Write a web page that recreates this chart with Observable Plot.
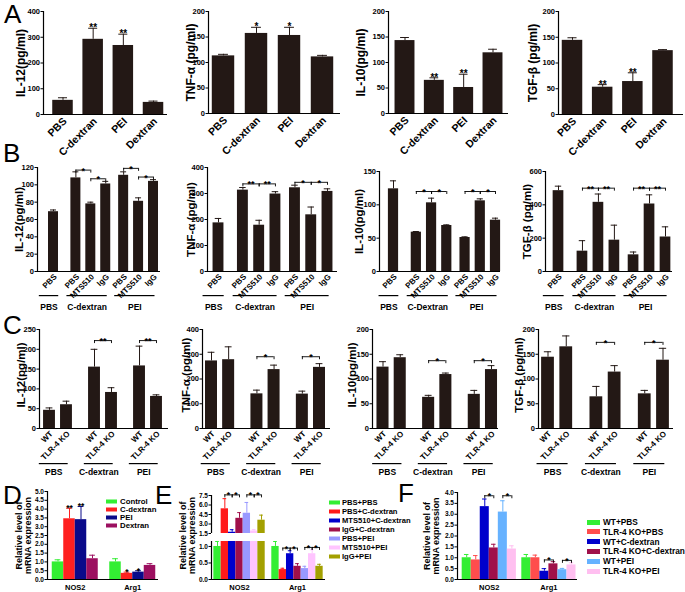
<!DOCTYPE html>
<html>
<head>
<meta charset="utf-8">
<script src="https://cdn.jsdelivr.net/npm/d3@7"></script>
<script src="https://cdn.jsdelivr.net/npm/@observablehq/plot@0.6"></script>
<style>
html,body{margin:0;padding:0;background:#fff;}
#fig{position:relative;width:685px;height:592px;overflow:hidden;font-family:'Liberation Sans',Arial,Helvetica,sans-serif;color:#000;}
#fig svg{position:absolute;left:0;top:0;}
.letter{position:absolute;font-size:26px;line-height:26px;font-weight:normal;}
.legend{position:absolute;font-weight:bold;}
.legend .row{position:absolute;left:0;display:flex;align-items:center;white-space:nowrap;transform:translateY(-50%);}
.legend .sw{display:inline-block;}
</style>
</head>
<body>
<div id="fig"></div>
<script>
// ---------------- DATA ----------------
// Panel A
const aCats = ["PBS", "C-dextran", "PEI", "Dextran"];
const aIL12 = [55, 292, 268, 47], aIL12Err = [10, 43, 44, 5], aIL12Sig = ["", "**", "**", ""];
const aTNF = [113, 157, 153, 111], aTNFErr = [3, 12, 16, 3], aTNFSig = ["", "*", "*", ""];
const aIL10 = [143, 65, 51, 119], aIL10Err = [6, 5, 26, 7], aIL10Sig = ["", "**", "**", ""];
const aTGF = [144, 53, 64, 124], aTGFErr = [5, 5, 17, 2], aTGFSig = ["", "**", "**", ""];
const aTicks400 = [0, 100, 200, 300, 400], aTicks200 = [0, 50, 100, 150, 200];

// Panel B
const bTicks = ["PBS", "PBS", "MTS510", "IgG", "PBS", "MTS510", "IgG"];
const bGroupOf = [0, 1, 1, 1, 2, 2, 2];
const bGroups = ["PBS", "C-dextran", "PEI"];
const bGroupsIL10 = ["PBS", "C-Dextran", "PEI"];
const bIL12 = [69, 108, 78, 101, 111, 81, 104], bIL12Err = [2, 7, 2, 3, 4, 4, 2];
const bTNF = [187, 313, 178, 298, 322, 218, 308], bTNFErr = [17, 10, 19, 9, 10, 30, 10];
const bIL10 = [124, 59, 103, 69, 51, 106, 77], bIL10Err = [12, 1, 7, 1, 1, 3, 3];
const bTGF = [485, 122, 415, 188, 100, 405, 207], bTGFErr = [27, 63, 50, 90, 17, 55, 61];
// significance brackets: [from bar, to bar, label, height]
const bIL12Sig = [[1, 2, "*", 117], [2, 3, "*", 107], [4, 5, "*", 119], [5, 6, "*", 109]];
const bTNFSig = [[1, 2, "**", 337], [2, 3, "**", 337], [4, 5, "*", 343], [5, 6, "*", 343]];
const bIL10Sig = [[1, 2, "*", 120], [2, 3, "*", 120], [4, 5, "*", 120], [5, 6, "*", 120]];
const bTGFSig = [[1, 2, "**", 500], [2, 3, "**", 500], [4, 5, "**", 500], [5, 6, "**", 500]];
const bTicksIL12 = [0, 20, 40, 60, 80, 100, 120], bTicksTNF = [0, 100, 200, 300, 400];
const bTicksIL10 = [0, 50, 100, 150], bTicksTGF = [0, 200, 400, 600];

// Panel C
const cTicks = ["WT", "TLR-4 KO", "WT", "TLR-4 KO", "WT", "TLR-4 KO"];
const cGroupOf = [0, 0, 1, 1, 2, 2];
const cGroups = ["PBS", "C-dextran", "PEI"];
const cIL12 = [46, 60, 155, 91, 158, 81], cIL12Err = [6, 9, 45, 12, 50, 4];
const cTNF = [273, 278, 140, 238, 139, 247], cTNFErr = [35, 52, 15, 18, 12, 15];
const cIL10 = [124, 143, 63, 109, 69, 119], cIL10Err = [11, 6, 4, 3, 8, 8];
const cTGF = [144, 165, 64, 114, 70, 138], cTGFErr = [11, 22, 21, 13, 7, 24];
const cIL12Sig = [[2, 3, "**", 222], [4, 5, "**", 222]];
const cTNFSig = [[2, 3, "*", 290], [4, 5, "*", 290]];
const cIL10Sig = [[2, 3, "*", 137], [4, 5, "*", 137]];
const cTGFSig = [[2, 3, "*", 174], [4, 5, "*", 174]];
const cTicksIL12 = [0, 50, 100, 150, 200, 250], cTicksTNF = [0, 100, 200, 300, 400], cTicks200 = [0, 50, 100, 150, 200];

// Panel D
const genes = ["NOS2", "Arg1"];
const dSeries = ["Control", "C-dextran", "PEI", "Dextran"];
const dColors = ["#33ee33", "#ff2020", "#0a0a8a", "#9c1060"];
const dNOS2 = [1.0, 3.45, 3.4, 1.18], dNOS2Err = [0.12, 0.6, 0.75, 0.2], dNOS2Sig = ["", "**", "**", ""];
const dArg1 = [1.0, 0.35, 0.42, 0.8], dArg1Err = [0.18, 0.07, 0.08, 0.1], dArg1Sig = ["", "*", "*", ""];
const dTicks = [0, 0.5, 1, 1.5, 2, 2.5, 3, 3.5, 4, 4.5, 5];

// Panel E
const eSeries = ["PBS+PBS", "PBS+C-dextran", "MTS510+C-dextran", "IgG+C-dextran", "PBS+PEI", "MTS510+PEI", "IgG+PEI"];
const eColors = ["#33ee33", "#ff1a1a", "#0000cc", "#a0104a", "#9999ff", "#ffc4ff", "#a3a000"];
const eNOS2 = [1.0, 5.4, 1.7, 3.9, 4.7, 1.9, 3.6], eNOS2Err = [0.15, 1.6, 0.4, 0.9, 1.7, 0.2, 0.8];
const eArg1 = [1.0, 0.3, 0.78, 0.4, 0.33, 0.78, 0.4], eArg1Err = [0.15, 0.04, 0.09, 0.08, 0.07, 0.12, 0.06];
const eNOS2Sig = [[1, 2, "*", 7.6], [2, 3, "*", 7.6], [4, 5, "*", 7.6], [5, 6, "*", 7.6]];
const eArg1Sig = [[8, 9, "*", 0.95], [9, 10, "*", 0.95], [11, 12, "*", 0.97], [12, 13, "*", 0.97]];
const eTicksHigh = [1.5, 3.0, 4.5, 6.0, 7.5], eTicksLow = [0, 0.5, 1.0];

// Panel F
const fSeries = ["WT+PBS", "TLR-4 KO+PBS", "WT+C-dextran", "TLR-4 KO+C-dextran", "WT+PEI", "TLR-4 KO+PEI"];
const fColors = ["#33ee33", "#ff4d4d", "#0000cc", "#a0104a", "#66b2ff", "#ffbff0"];
const fNOS2 = [1.0, 0.9, 3.35, 1.45, 3.1, 1.4], fNOS2Err = [0.15, 0.2, 0.35, 0.17, 0.52, 0.15];
const fArg1 = [1.0, 1.0, 0.38, 0.72, 0.45, 0.67], fArg1Err = [0.15, 0.12, 0.12, 0.1, 0.06, 0.1];
const fSig = [[2, 3, "*", 3.85], [4, 5, "*", 3.85], [8, 9, "*", 0.9], [10, 11, "*", 0.88]];
const fTicks = [0, 0.5, 1, 1.5, 2, 2.5, 3, 3.5, 4];

// ---------------- DRAWING ----------------
const W = 685, H = 592, INK = "#231815";
const fig = document.getElementById("fig");
const f0 = d3.format("d"), f1 = d3.format(".1f");
const STYLE = "background:transparent;overflow:visible;font-family:'Liberation Sans',Arial,sans-serif;font-weight:bold;font-size:9px;";

function groupsFrom(groupOf, labels) {
  return labels.map((label, gi) => {
    const idx = groupOf.map((v, i) => v === gi ? i : -1).filter(i => i >= 0);
    return {label, first: idx[0], last: idx[idx.length - 1]};
  });
}

function panel(o) {
  const n = o.pos.length;
  const step = (o.cxN - o.cx0) / (o.pos[n - 1] - o.pos[0]);
  const xd = [o.pos[0] - (o.cx0 - o.L) / step, o.pos[n - 1] + (o.R - o.cxN) / step];
  const [y0, y1] = o.yDomain;
  const upp = (y1 - y0) / (o.B - o.T);
  const rows = o.vals.map((v, i) => ({
    p: o.pos[i], v, e: o.errs[i],
    c: o.colors ? o.colors[i] : INK,
    t: o.ticks ? o.ticks[i] : "",
    s: o.stars ? o.stars[i] : ""
  }));
  const hw = (o.barFrac ?? 0.68) / 2, cw = (o.capFrac ?? 0.35) / 2;
  const clip = !!o.clip;
  const marks = [
    Plot.rectY(rows, {x1: d => d.p - hw, x2: d => d.p + hw, y1: () => 0, y2: "v", fill: "c", clip}),
    Plot.ruleX(rows, {x: "p", y1: "v", y2: d => d.v + d.e, stroke: "c", strokeWidth: 1, clip}),
    Plot.ruleY(rows, {y: d => d.v + d.e, x1: d => d.p - cw, x2: d => d.p + cw, stroke: "c", strokeWidth: 1, clip}),
    Plot.ruleX([xd[0]], {x: d => d, y1: () => y0, y2: () => y1, stroke: "#000", strokeWidth: 1.2}),
    Plot.axisY({ticks: o.yTicks, tickFormat: o.fmt || f0, tickSize: 2.5, tickPadding: 1, fontSize: o.axisFont || 7.5, label: null})
  ];
  if (o.xLine !== false)
    marks.push(Plot.ruleY([y0], {y: d => d, x1: () => xd[0], x2: () => xd[1], stroke: "#000", strokeWidth: 1.2}));
  if (o.stars)
    marks.push(Plot.text(rows.filter(d => d.s), {x: "p", y: d => d.v + d.e, text: "s", dy: o.starDy ?? 3, lineAnchor: "bottom", fontSize: o.starFont || 10}));
  if (o.ticks)
    marks.push(Plot.text(rows, {x: "p", y: () => y0, text: "t", rotate: -45, textAnchor: "end", lineAnchor: "middle", dx: 2, dy: o.tickDy ?? 5, fontSize: o.tickFont || 8}));
  if (o.cats) {
    marks.push(Plot.text(o.cats, {x: d => (o.pos[d.first] + o.pos[d.last]) / 2, y: () => y0, text: "label", dy: 5, lineAnchor: "top", fontSize: 7.5}));
  }
  if (o.brackets) {
    const br = o.brackets.map(([a, b, s, y]) => ({x1: o.pos[a], x2: o.pos[b], s, y}));
    const ends = br.flatMap(d => [{x: d.x1, y: d.y}, {x: d.x2, y: d.y}]);
    marks.push(Plot.ruleY(br, {y: "y", x1: "x1", x2: "x2", stroke: "#000", strokeWidth: 0.9}));
    marks.push(Plot.ruleX(ends, {x: "x", y1: "y", y2: d => d.y - 3 * upp, stroke: "#000", strokeWidth: 0.9}));
    marks.push(Plot.text(br, {x: d => (d.x1 + d.x2) / 2, y: "y", text: "s", lineAnchor: "bottom", dy: o.brDy ?? 3.5, fontSize: o.brFont || 9}));
  }
  if (o.yLabel)
    marks.push(Plot.text([o.yLabel], {frameAnchor: "left", text: d => d, rotate: -90, dx: o.yLabelDx, dy: o.yLabelDy || 0, fontSize: o.yLabelFont || 12, textAnchor: "middle", lineAnchor: "middle", lineHeight: 1.0}));

  const svg = Plot.plot({
    width: W, height: H,
    marginLeft: o.L, marginRight: W - o.R, marginTop: o.T, marginBottom: H - o.B,
    x: {domain: xd, axis: null},
    y: {domain: [y0, y1], label: null},
    color: {type: "identity"},
    style: STYLE,
    marks
  });
  fig.appendChild(svg);

  // Group underlines and group names, drawn in their own layer with the same scales
  if (o.groups) {
    const yLine = y0 - o.gLineDy * upp, yText = y0 - o.gTextDy * upp;
    const grp = o.groups.map(gr => {
      let a = o.pos[gr.first] - 0.6, b = o.pos[gr.last] + 0.1;
      if (b - a < 1.25) { const mid = o.pos[gr.first] - 0.3; a = mid - 0.65; b = mid + 0.65; }
      return {gx1: a, gx2: b, gm: (a + b) / 2, label: gr.label, gy: yLine, gyb: yLine - 1.2 * upp, gyt: yText};
    });
    const svg2 = Plot.plot({
      width: W, height: H,
      marginLeft: o.L, marginRight: W - o.R, marginTop: o.T, marginBottom: H - o.B,
      x: {domain: xd, axis: null},
      y: {domain: [y0, y1], axis: null},
      style: STYLE,
      marks: [
        Plot.rect(grp, {x1: "gx1", x2: "gx2", y1: "gy", y2: "gyb", fill: "black"}),
        Plot.text(grp, {x: "gm", y: "gyt", text: "label", fontSize: o.gFont || 8.5, lineAnchor: "middle"})
      ]
    });
    fig.appendChild(svg2);
  }
}

// ----- Row A -----
const posA = [0, 1, 2, 3];
const aCommon = {pos: posA, ticks: aCats, tickFont: 10.5, tickDy: 5, barFrac: 0.68, capFrac: 0.3, starFont: 10};
panel({...aCommon, L: 43, R: 167, T: 11, B: 114, cx0: 62.5, cxN: 153, yDomain: [0, 400], yTicks: aTicks400,
  vals: aIL12, errs: aIL12Err, stars: aIL12Sig, yLabel: "IL-12(pg/ml)", yLabelDx: -22});
panel({...aCommon, L: 208, R: 340, T: 11, B: 113, cx0: 223, cxN: 322, yDomain: [0, 200], yTicks: aTicks200,
  vals: aTNF, errs: aTNFErr, stars: aTNFSig, yLabel: "TNF-α (pg/ml)", yLabelDx: -17});
panel({...aCommon, L: 388, R: 508, T: 11, B: 113, cx0: 404.5, cxN: 492.5, yDomain: [0, 200], yTicks: aTicks200,
  vals: aIL10, errs: aIL10Err, stars: aIL10Sig, yLabel: "IL-10(pg/ml)", yLabelDx: -27});
panel({...aCommon, L: 558, R: 683, T: 11, B: 114, cx0: 572, cxN: 662.5, yDomain: [0, 200], yTicks: aTicks200,
  vals: aTGF, errs: aTGFErr, stars: aTGFSig, yLabel: "TGF-β (pg/ml)", yLabelDx: -25});

// ----- Row B -----
const posB = [0, 1.5, 2.5, 3.5, 4.7, 5.7, 6.7];
const bCommon = {pos: posB, ticks: bTicks, tickFont: 8, tickDy: 4, barFrac: 0.67, capFrac: 0.4, gLineDy: 24, gTextDy: 36, yLabelFont: 11.5};
panel({...bCommon, L: 37, R: 160, T: 167, B: 271, cx0: 53, cxN: 153, yDomain: [0, 120], yTicks: bTicksIL12,
  vals: bIL12, errs: bIL12Err, brackets: bIL12Sig, groups: groupsFrom(bGroupOf, bGroups), yLabel: "IL-12(pg/ml)", yLabelDx: -18});
panel({...bCommon, L: 207, R: 337, T: 167, B: 271, cx0: 218, cxN: 327, yDomain: [0, 400], yTicks: bTicksTNF,
  vals: bTNF, errs: bTNFErr, brackets: bTNFSig, groups: groupsFrom(bGroupOf, bGroups), yLabel: "TNF-α (pg/ml)", yLabelDx: -16});
panel({...bCommon, L: 379, R: 500, T: 171, B: 271, cx0: 393, cxN: 495, yDomain: [0, 150], yTicks: bTicksIL10,
  vals: bIL10, errs: bIL10Err, brackets: bIL10Sig, groups: groupsFrom(bGroupOf, bGroupsIL10), yLabel: "IL-10(pg/ml)", yLabelDx: -20});
panel({...bCommon, L: 545, R: 672, T: 171, B: 271, cx0: 558, cxN: 665, yDomain: [0, 600], yTicks: bTicksTGF,
  vals: bTGF, errs: bTGFErr, brackets: bTGFSig, groups: groupsFrom(bGroupOf, bGroups), yLabel: "TGF-β (pg/ml)", yLabelDx: -18});

// ----- Row C -----
const posC = [0, 1, 2.65, 3.65, 5.3, 6.3];
const cCommon = {pos: posC, ticks: cTicks, tickFont: 8, tickDy: 4, barFrac: 0.7, capFrac: 0.4, gLineDy: 35, gTextDy: 44, yLabelFont: 11.5, yLabelDy: -4};
panel({...cCommon, L: 39, R: 168, T: 329, B: 428, cx0: 49, cxN: 156, yDomain: [0, 250], yTicks: cTicksIL12,
  vals: cIL12, errs: cIL12Err, brackets: cIL12Sig, groups: groupsFrom(cGroupOf, cGroups), yLabel: "IL-12(pg/ml)", yLabelDx: -18});
panel({...cCommon, L: 202, R: 330, T: 329, B: 428, cx0: 211, cxN: 319, yDomain: [0, 400], yTicks: cTicksTNF,
  vals: cTNF, errs: cTNFErr, brackets: cTNFSig, groups: groupsFrom(cGroupOf, cGroups), yLabel: "TNF-α (pg/ml)", yLabelDx: -16});
panel({...cCommon, L: 372, R: 498, T: 329, B: 428, cx0: 382.5, cxN: 491, yDomain: [0, 200], yTicks: cTicks200,
  vals: cIL10, errs: cIL10Err, brackets: cIL10Sig, groups: groupsFrom(cGroupOf, cGroups), yLabel: "IL-10(pg/ml)", yLabelDx: -20});
panel({...cCommon, L: 538, R: 673, T: 329, B: 428, cx0: 547.5, cxN: 662.5, yDomain: [0, 200], yTicks: cTicks200,
  vals: cTGF, errs: cTGFErr, brackets: cTGFSig, groups: groupsFrom(cGroupOf, cGroups), yLabel: "TGF-β (pg/ml)", yLabelDx: -19});

// ----- Row D -----
const posD = [0, 1, 2, 3, 5, 6, 7, 8];
panel({pos: posD, L: 47, R: 158, T: 491, B: 579, cx0: 57.5, cxN: 149.5, yDomain: [0, 5], yTicks: dTicks, fmt: f1, axisFont: 6.5,
  vals: dNOS2.concat(dArg1), errs: dNOS2Err.concat(dArg1Err), colors: dColors.concat(dColors),
  stars: dNOS2Sig.concat(dArg1Sig), starFont: 8.5, starDy: 3, barFrac: 1, capFrac: 0.5,
  cats: [{label: genes[0], first: 0, last: 3}, {label: genes[1], first: 4, last: 7}],
  yLabel: "Relative level of\nmRNA expression", yLabelDx: -24, yLabelFont: 9});

// ----- Row E (broken axis) -----
const posE = [0, 1, 2, 3, 4, 5, 6, 7.9, 8.9, 9.9, 10.9, 11.9, 12.9, 13.9];
const eCommon = {pos: posE, L: 211, R: 325, cx0: 217, cxN: 319, fmt: f1, axisFont: 6.5, barFrac: 1, capFrac: 0.5, clip: true,
  vals: eNOS2.concat(eArg1), errs: eNOS2Err.concat(eArg1Err), colors: eColors.concat(eColors), brFont: 8.5};
panel({...eCommon, T: 495, B: 533, yDomain: [1.5, 7.5], yTicks: eTicksHigh, xLine: false, brackets: eNOS2Sig});
panel({...eCommon, T: 541, B: 579, yDomain: [0, 1.15], yTicks: eTicksLow, brackets: eArg1Sig,
  cats: [{label: genes[0], first: 0, last: 6}, {label: genes[1], first: 7, last: 13}],
  yLabel: "Relative level of\nmRNA expression", yLabelDx: -24, yLabelDy: -25, yLabelFont: 9});

// ----- Row F -----
const posF = [0, 1, 2, 3, 4, 5, 6.6, 7.6, 8.6, 9.6, 10.6, 11.6];
panel({pos: posF, L: 457, R: 577, T: 492, B: 579, cx0: 466.2, cxN: 571, yDomain: [0, 4], yTicks: fTicks, fmt: f1, axisFont: 6.5,
  vals: fNOS2.concat(fArg1), errs: fNOS2Err.concat(fArg1Err), colors: fColors.concat(fColors),
  barFrac: 1, capFrac: 0.5, brackets: fSig, brFont: 8.5,
  cats: [{label: genes[0], first: 0, last: 5}, {label: genes[1], first: 6, last: 11}],
  yLabel: "Relative level of\nmRNA expression", yLabelDx: -26, yLabelFont: 9});

// ----- Legends -----
function legend(left, top0, spacing, swW, swH, gap, fontSize, names, colors) {
  const box = document.createElement("div");
  box.className = "legend";
  box.style.left = left + "px"; box.style.top = "0px"; box.style.fontSize = fontSize + "px";
  names.forEach((name, i) => {
    const row = document.createElement("div");
    row.className = "row";
    row.style.top = (top0 + i * spacing) + "px";
    const sw = document.createElement("span");
    sw.className = "sw";
    sw.style.width = swW + "px"; sw.style.height = swH + "px"; sw.style.background = colors[i]; sw.style.marginRight = gap + "px";
    const tx = document.createElement("span");
    tx.textContent = name;
    row.appendChild(sw); row.appendChild(tx);
    box.appendChild(row);
  });
  fig.appendChild(box);
}
legend(106, 501, 8.1, 11, 4, 3, 7.8, dSeries, dColors);
legend(329, 502, 9, 11, 4, 2, 7.6, eSeries, eColors);
legend(587, 522, 9.8, 13, 5, 3, 8.3, fSeries, fColors);

// ----- Panel letters -----
[["A", 4, 1], ["B", 3, 140], ["C", 3, 312], ["D", 3, 482], ["E", 155, 482], ["F", 398, 480]].forEach(([t, x, y]) => {
  const d = document.createElement("div");
  d.className = "letter"; d.textContent = t;
  d.style.left = x + "px"; d.style.top = y + "px";
  fig.appendChild(d);
});
</script>
</body>
</html>
